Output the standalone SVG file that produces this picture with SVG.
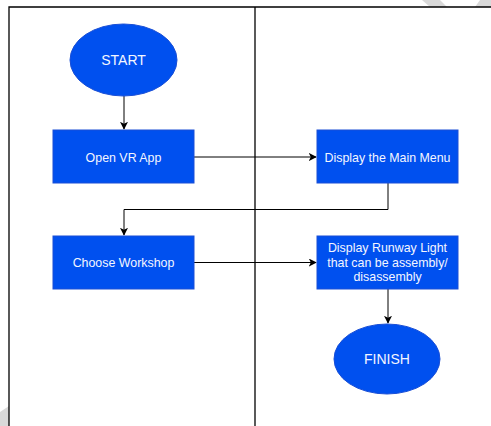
<svg xmlns="http://www.w3.org/2000/svg" width="491" height="426" viewBox="0 0 491 426">
<style>
.node{fill:#0050ef;stroke:#1a4fd6;stroke-width:1}
.lbl{font-family:"Liberation Sans",Arial,sans-serif;font-size:12.4px;fill:#f4f6ff;text-anchor:middle}
.big{font-size:14px}
.edge{fill:none;stroke:#000;stroke-width:1}
.frame{fill:none;stroke:#000;stroke-width:1.3}
</style>
<defs>
<marker id="arr" viewBox="0 0 10 10" refX="9" refY="5" markerWidth="8" markerHeight="8" orient="auto" markerUnits="userSpaceOnUse">
<path d="M0,0 L10,5 L0,10 L2.5,5 Z" fill="#000"/>
</marker>
</defs>
<rect width="491" height="426" fill="#fff"/>
<g id="artifacts" fill="#d9d9d9">
<polygon points="422,0 440,0 447,7 430,7"/>
<polygon points="480,0 491,0 491,7 475,7"/>
<polygon points="0,412 9,406 9,426 0,426"/>
</g>
<g id="frame">
<path class="frame" d="M9,426 V7 H491"/>
<path class="frame" d="M255,7 V426"/>
</g>
<g id="connectors">
<path class="edge" d="M124,96 V129" marker-end="url(#arr)"/>
<path class="edge" d="M194,157 H316" marker-end="url(#arr)"/>
<path class="edge" d="M388,183 V209.5 H124 V235" marker-end="url(#arr)"/>
<path class="edge" d="M194,262.5 H316" marker-end="url(#arr)"/>
<path class="edge" d="M388,289 V323" marker-end="url(#arr)"/>
</g>
<g id="start">
<ellipse class="node" cx="123.5" cy="60" rx="53.5" ry="36"/>
<text class="lbl big" x="123.5" y="65">START</text>
</g>
<g id="open-vr-app">
<rect class="node" x="53" y="130" width="141" height="53"/>
<text class="lbl" x="123.5" y="161.5">Open VR App</text>
</g>
<g id="main-menu">
<rect class="node" x="317" y="130" width="141" height="53"/>
<text class="lbl" x="387.5" y="161.5">Display the Main Menu</text>
</g>
<g id="choose-workshop">
<rect class="node" x="53" y="236" width="141" height="53"/>
<text class="lbl" x="123.5" y="267">Choose Workshop</text>
</g>
<g id="runway-light">
<rect class="node" x="317" y="236" width="141" height="53"/>
<text class="lbl" x="387.5" y="252">Display Runway Light</text>
<text class="lbl" x="387.5" y="266.5">that can be assembly/</text>
<text class="lbl" x="387.5" y="281">disassembly</text>
</g>
<g id="finish">
<ellipse class="node" cx="387" cy="359" rx="53" ry="35"/>
<text class="lbl big" x="387" y="364">FINISH</text>
</g>
</svg>
